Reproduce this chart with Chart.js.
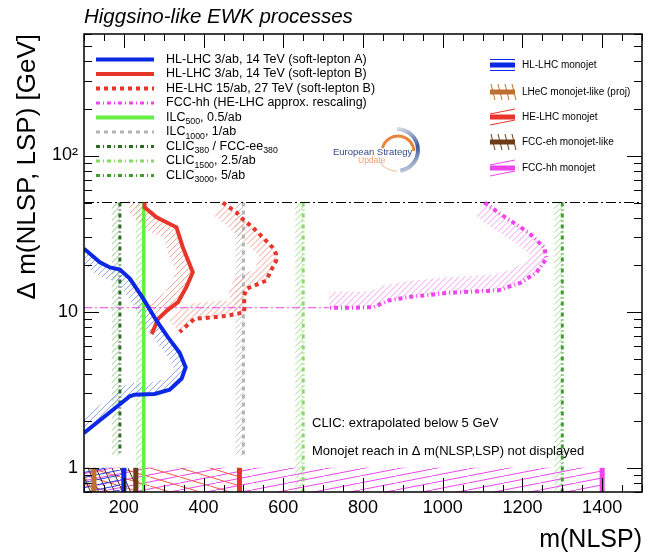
<!DOCTYPE html>
<html><head><meta charset="utf-8">
<script src="https://cdn.jsdelivr.net/npm/chart.js@4.4.1/dist/chart.umd.min.js"></script>
<style>html,body{margin:0;padding:0;background:#fff}#wrap{position:relative;width:653px;height:554px}</style>
</head><body><div id="wrap"><canvas id="c"></canvas></div>
<script>
// ---------------- DATA ----------------
const chartTitle = 'Higgsino-like EWK processes';
const xTitle = 'm(NLSP)';
const yTitle = 'Δ m(NLSP, LSP) [GeV]';
const xTickLabels = [200, 400, 600, 800, 1000, 1200, 1400];
const yTickLabels = [1, 10, 100];

// HL-LHC 3/ab, 14 TeV (soft-lepton A)
const hlA_m  = [100, 140, 165, 190, 215, 247, 282, 310, 340, 355, 345, 315, 277, 227, 215, 100];
const hlA_dm = [25.3, 20.7, 19.2, 18.6, 16.3, 12.3, 8.75, 6.9, 5.45, 4.4, 3.73, 3.16, 2.97, 2.94, 2.87, 1.67];
// HL-LHC 3/ab, 14 TeV (soft-lepton B)
const hlB_m  = [252, 252, 282, 332, 348, 373, 357, 336, 307, 286, 270];
const hlB_dm = [50, 46.6, 40.2, 34.7, 25.8, 17.9, 14.4, 11.5, 10.1, 9.0, 7.2];
// HE-LHC 15/ab, 27 TeV (soft-lepton B)
const he_m  = [448, 482, 498, 523, 548, 573, 582, 582, 569, 557, 507, 502, 502, 457, 423, 377, 340];
const he_dm = [50, 43.3, 39.2, 34.7, 30, 25.8, 23.4, 21.2, 18.3, 15.8, 14.0, 12.6, 9.9, 9.4, 9.2, 9.0, 7.4];
// FCC-hh (HE-LHC approx. rescaling)
const fcc_m  = [1105, 1152, 1215, 1255, 1260, 1235, 1195, 1140, 1015, 915, 865, 827, 777, 715];
const fcc_dm = [50, 41, 32.2, 25.7, 21.9, 17.8, 15.3, 13.7, 13.2, 12.4, 11.8, 10.7, 10.6, 10.6];
const fccExt_m = [100, 715];
const fccExt_dm = [10.6, 10.6];

// lepton-collider reaches (vertical lines)
const leptonNames = ['ILC500', 'ILC1000', 'CLIC380', 'CLIC1500', 'CLIC3000'];
const leptonReach = [250, 500, 190, 650, 1300];
const leptonDmMax = [50, 50, 50, 50, 50];
const leptonDmMin = [0.7, 1.2, 1.2, 0.7, 0.7];
const dmLimitLine = 50;

// monojet reaches (bottom band)
const monoNames = ['FCC-hh monojet', 'HE-LHC monojet', 'FCC-eh monojet-like', 'HL-LHC monojet', 'LHeC monojet-like (proj)'];
const monoReach = [1400, 490, 230, 200, 125];
const monoDmMax = 1.0;

const xMin = 100, xMax = 1500, yMin = 0.7, yMax = 600;

// ---------------- STYLE ----------------
const FONT = '"Liberation Sans", Arial, Helvetica, sans-serif';
const C = {
  blue:'#0a28e6', red:'#e8352a', mag:'#ee44ee', ilc500:'#66ee44', ilc1000:'#b4b4b4',
  clic380:'#2b6e22', clic1500:'#86dc62', clic3000:'#3f9e2f', lhec:'#c0702e', fcceh:'#6e3c14'
};
function pat(color, w, h, lines, lw){
  const c = document.createElement('canvas'); c.width = w; c.height = h;
  const g = c.getContext('2d'); g.strokeStyle = color; g.lineWidth = lw || 1;
  lines.forEach(([a,b,d,e]) => { g.beginPath(); g.moveTo(a,b); g.lineTo(d,e); g.stroke(); });
  return g.createPattern(c, 'repeat');
}
const P = (xs, ys) => xs.map((x,i) => ({x, y: ys[i]}));

const monoColors = [C.mag, C.red, C.fcceh, C.blue, C.lhec];
const monoPatterns = [
  pat('#ee44ee', 36, 7, [[0,7,36,0]], 1),
  pat('#f05a48', 30, 9, [[0,0,30,9]], 1),
  pat('#4a2a10', 8, 18, [[0,0,8,18]], 1),
  pat('#2b3ee0', 24, 5, [[0,5,24,0]], 1),
  pat('#c0702e', 10, 18, [[0,0,10,18]], 1)
];
const leptonStyle = [
  {color:C.ilc500, w:3.5, dash:[], band:'#9ede8a'},
  {color:C.ilc1000, w:3, dash:[4,4], band:'#c4c4c4'},
  {color:C.clic380, w:3, dash:[4,3,1,3], band:'#94c488'},
  {color:C.clic1500, w:3, dash:[4,3,1,3], band:'#9ede8a'},
  {color:C.clic3000, w:3, dash:[4,3,1,3], band:'#9ede8a'}
];

const datasets = [];
// monojet fills and bars
monoReach.forEach((r,i) => {
  datasets.push({data:[{x:xMin,y:monoDmMax},{x:r,y:monoDmMax}], borderWidth:0, borderColor:'rgba(0,0,0,0)',
    backgroundColor:monoPatterns[i], fill:'start', order:100 - i});
  datasets.push({data:[{x:r,y:yMin},{x:r,y:monoDmMax}], borderWidth:5, borderColor:monoColors[i], fill:false, order:60 - i, borderCapStyle:'butt'});
});
// lepton collider vertical lines
leptonReach.forEach((r,i) => {
  const s = leptonStyle[i];
  datasets.push({data:[{x:r,y:leptonDmMax[i]},{x:r,y:leptonDmMin[i]}], borderWidth:s.w, borderColor:s.color,
    borderDash:s.dash, fill:false, order:30 + i, band:{color:s.band, width:8}, borderCapStyle:'butt'});
});
// dm = 50 line
datasets.push({data:[{x:xMin,y:dmLimitLine},{x:xMax,y:dmLimitLine}], borderWidth:1, borderColor:'#000', borderDash:[10,3,2,3], fill:false, order:20});
datasets.push({data:P(fccExt_m, fccExt_dm), borderWidth:1, borderColor:C.mag, borderDash:[8,3,2,3], fill:false, order:20});
// soft-lepton contours
datasets.push({data:P(fcc_m, fcc_dm), borderWidth:4, borderColor:C.mag, borderDash:[4,3,1,3], fill:false, order:12, band:{color:'#f29cf2', width:16}});
datasets.push({data:P(he_m, he_dm), borderWidth:4, borderColor:C.red, borderDash:[4,4], fill:false, order:11, band:{color:'#f4a092', width:16}});
datasets.push({data:P(hlB_m, hlB_dm), borderWidth:4, borderColor:C.red, fill:false, order:10, band:{color:'#f4a092', width:16}});
datasets.push({data:P(hlA_m, hlA_dm), borderWidth:4, borderColor:C.blue, fill:false, order:9, band:{color:'#8ea2f0', width:12}});

// ---------------- PLUGINS ----------------
const bandPlugin = {
  id:'bands',
  beforeDatasetsDraw(chart){
    const {ctx, chartArea:a} = chart;
    chart.data.datasets.forEach((ds, i) => {
      if (!ds.band) return;
      const pts = chart.getDatasetMeta(i).data.map(p => ({x:p.x, y:p.y}));
      const out = pts.map((p, k) => {
        let nx = 0, ny = 0;
        [[k-1,k],[k,k+1]].forEach(([u,v]) => {
          if (u < 0 || v >= pts.length) return;
          const dx = pts[v].x-pts[u].x, dy = pts[v].y-pts[u].y, L = Math.hypot(dx,dy) || 1;
          nx += -dy/L; ny += dx/L;
        });
        const L = Math.hypot(nx,ny) || 1;
        return {x:p.x + nx/L*ds.band.width, y:p.y + ny/L*ds.band.width};
      });
      const poly = pts.concat(out.slice().reverse());
      let x0 = Infinity, x1 = -Infinity, y0 = Infinity, y1 = -Infinity;
      poly.forEach(p => { x0 = Math.min(x0,p.x); x1 = Math.max(x1,p.x); y0 = Math.min(y0,p.y); y1 = Math.max(y1,p.y); });
      ctx.save();
      ctx.beginPath(); ctx.rect(a.left, a.top, a.right-a.left, a.bottom-a.top); ctx.clip();
      ctx.beginPath();
      poly.forEach((p,k) => k ? ctx.lineTo(p.x,p.y) : ctx.moveTo(p.x,p.y));
      ctx.closePath(); ctx.clip();
      ctx.setLineDash([]);
      ctx.strokeStyle = ds.band.color; ctx.lineWidth = 1;
      ctx.beginPath();
      const H = y1 - y0;
      for (let s = x0 - H - 6; s <= x1 + 6; s += 6) { ctx.moveTo(s, y1); ctx.lineTo(s + H, y0); }
      ctx.stroke();
      ctx.restore();
    });
  }
};

const framePlugin = {
  id:'frame',
  afterDatasetsDraw(chart){
    const {ctx, chartArea:a, scales:{x, y}} = chart;
    ctx.save(); ctx.strokeStyle = '#000'; ctx.lineWidth = 1; ctx.setLineDash([]);
    for (let v = xMin; v <= xMax; v += 50) {
      const px = Math.round(x.getPixelForValue(v)) + 0.5;
      const L = (v % 200 === 0) ? 14 : 7;
      ctx.beginPath(); ctx.moveTo(px, a.bottom); ctx.lineTo(px, a.bottom - L);
      ctx.moveTo(px, a.top); ctx.lineTo(px, a.top + L); ctx.stroke();
    }
    for (let d = -1; d <= 2; d++) for (let m = 1; m <= 9; m++) {
      const v = m * Math.pow(10, d);
      if (v < yMin - 1e-9 || v > yMax + 1e-9) continue;
      const py = Math.round(y.getPixelForValue(v)) + 0.5;
      const L = m === 1 ? 15 : 8;
      ctx.beginPath(); ctx.moveTo(a.left, py); ctx.lineTo(a.left + L, py);
      ctx.moveTo(a.right, py); ctx.lineTo(a.right - L, py); ctx.stroke();
    }
    ctx.lineWidth = 1.5;
    ctx.strokeRect(a.left, a.top, a.right - a.left, a.bottom - a.top);
    ctx.restore();
  }
};

function richText(ctx, parts, x, y, size){
  parts.forEach(([t, sub]) => {
    ctx.font = (sub ? size*0.7 : size) + 'px ' + FONT;
    ctx.fillText(t, x, sub ? y + size*0.33 : y);
    x += ctx.measureText(t).width;
  });
}
const legendLeft = [
  {parts:[['HL-LHC 3/ab, 14 TeV (soft-lepton A)']], color:C.blue, w:4, dash:[]},
  {parts:[['HL-LHC 3/ab, 14 TeV (soft-lepton B)']], color:C.red, w:4, dash:[]},
  {parts:[['HE-LHC 15/ab, 27 TeV (soft-lepton B)']], color:C.red, w:4, dash:[4,4]},
  {parts:[['FCC-hh (HE-LHC approx. rescaling)']], color:C.mag, w:3, dash:[4,3,1,3]},
  {parts:[['ILC'],['500',1],[', 0.5/ab']], color:C.ilc500, w:4, dash:[]},
  {parts:[['ILC'],['1000',1],[', 1/ab']], color:C.ilc1000, w:3, dash:[4,4]},
  {parts:[['CLIC'],['380',1],[' / FCC-ee'],['380',1]], color:C.clic380, w:3, dash:[4,3,1,3]},
  {parts:[['CLIC'],['1500',1],[', 2.5/ab']], color:C.clic1500, w:3, dash:[4,3,1,3]},
  {parts:[['CLIC'],['3000',1],[', 5/ab']], color:C.clic3000, w:3, dash:[4,3,1,3]}
];
const legendRight = [
  {text:'HL-LHC monojet', color:C.blue, kind:'h'},
  {text:'LHeC monojet-like (proj)', color:C.lhec, kind:'v'},
  {text:'HE-LHC monojet', color:C.red, kind:'s'},
  {text:'FCC-eh monojet-like', color:C.fcceh, kind:'v'},
  {text:'FCC-hh monojet', color:C.mag, kind:'s'}
];

const textPlugin = {
  id:'texts',
  afterDraw(chart){
    const ctx = chart.ctx;
    ctx.save(); ctx.setLineDash([]);
    ctx.fillStyle = '#000'; ctx.textBaseline = 'alphabetic'; ctx.textAlign = 'left';
    ctx.font = 'italic 20.5px ' + FONT;
    ctx.fillText(chartTitle, 84, 23);
    // left legend
    legendLeft.forEach((e, i) => {
      const yy = 59.5 + i * 14.5;
      ctx.save(); ctx.strokeStyle = e.color; ctx.lineWidth = e.w; ctx.setLineDash(e.dash);
      ctx.beginPath(); ctx.moveTo(96, yy); ctx.lineTo(154, yy); ctx.stroke(); ctx.restore();
      ctx.fillStyle = '#000'; ctx.textBaseline = 'middle';
      richText(ctx, e.parts, 166, yy, 12.5);
    });
    // right legend
    legendRight.forEach((e, i) => {
      const yy = [65, 92, 117, 142, 168][i];
      ctx.save();
      ctx.fillStyle = e.color; ctx.fillRect(490, yy - 2.5, 25, 5);
      ctx.strokeStyle = e.color; ctx.lineWidth = 1; ctx.beginPath();
      if (e.kind === 'h') { ctx.moveTo(490, yy - 5.5); ctx.lineTo(515, yy - 5.5); ctx.moveTo(490, yy + 5.5); ctx.lineTo(515, yy + 5.5); }
      else if (e.kind === 'v') { for (let k = 0; k < 4; k++) { const x0 = 491 + k * 7; ctx.moveTo(x0, yy - 8); ctx.lineTo(x0 + 4, yy + 8); } }
      else { ctx.moveTo(490, yy - 3); ctx.lineTo(515, yy - 8); ctx.moveTo(490, yy + 8); ctx.lineTo(515, yy + 3); }
      ctx.stroke(); ctx.restore();
      ctx.fillStyle = '#000'; ctx.textBaseline = 'middle'; ctx.font = '10px ' + FONT;
      ctx.fillText(e.text, 522, yy);
    });
    // annotations
    ctx.font = '13px ' + FONT; ctx.textBaseline = 'middle'; ctx.fillStyle = '#000';
    ctx.fillText('CLIC: extrapolated below 5 GeV', 312, 423);
    ctx.fillText('Monojet reach in Δ m(NLSP,LSP) not displayed', 312, 451);
    // logo
    ctx.lineCap = 'butt';
    ctx.strokeStyle = '#e8843c'; ctx.lineWidth = 3;
    ctx.beginPath(); ctx.arc(398, 152, 16, Math.PI * 1.08, Math.PI * 1.98); ctx.stroke();
    const g = ctx.createLinearGradient(398, 128, 410, 172);
    g.addColorStop(0, '#d8dce6'); g.addColorStop(0.5, '#3d5a9c'); g.addColorStop(1, '#c8d0e0');
    ctx.strokeStyle = g; ctx.lineWidth = 4;
    ctx.beginPath(); ctx.arc(397, 150, 21, -Math.PI * 0.5, Math.PI * 0.45); ctx.stroke();
    ctx.strokeStyle = '#f6d2b8'; ctx.lineWidth = 1.5;
    ctx.beginPath(); ctx.arc(397, 150, 21, Math.PI * 0.5, Math.PI * 0.8); ctx.stroke();
    ctx.textBaseline = 'alphabetic';
    ctx.font = '9.5px ' + FONT; ctx.fillStyle = '#34498a';
    ctx.fillText('European Strategy', 333, 155);
    ctx.font = '8.5px ' + FONT; ctx.fillStyle = '#f0a070';
    ctx.fillText('Update', 358, 163);
    ctx.restore();
  }
};

new Chart(document.getElementById('c'), {
  type:'line',
  data:{datasets},
  options:{
    responsive:true, maintainAspectRatio:false, animation:false, devicePixelRatio:1,
    layout:{padding:{top:34, right:11, left:0, bottom:0}},
    plugins:{legend:{display:false}, tooltip:{enabled:false}, title:{display:false}},
    elements:{point:{radius:0, hoverRadius:0}, line:{tension:0}},
    scales:{
      x:{type:'linear', min:xMin, max:xMax,
        grid:{display:false, drawTicks:false}, border:{display:false},
        afterBuildTicks:s => { s.ticks = xTickLabels.map(v => ({value:v})); },
        ticks:{font:{family:FONT, size:18}, color:'#000', padding:5, maxRotation:0, autoSkip:false, callback:v => String(v)},
        title:{display:true, text:xTitle, align:'end', color:'#000', font:{family:FONT, size:25, lineHeight:1}, padding:{top:0, bottom:1}},
        afterFit:s => { s.height = 62; }
      },
      y:{type:'logarithmic', min:yMin, max:yMax,
        grid:{display:false, drawTicks:false}, border:{display:false},
        afterBuildTicks:s => { s.ticks = yTickLabels.map(v => ({value:v})); },
        ticks:{font:{family:FONT, size:18}, color:'#000', padding:6, autoSkip:false,
          callback:v => v === 100 ? '10²' : String(v)},
        title:{display:true, text:yTitle, align:'end', color:'#000', font:{family:FONT, size:26, lineHeight:1}, padding:{top:15, bottom:0}},
        afterFit:s => { s.width = 84; }
      }
    }
  },
  plugins:[bandPlugin, framePlugin, textPlugin]
});
</script></body></html>
